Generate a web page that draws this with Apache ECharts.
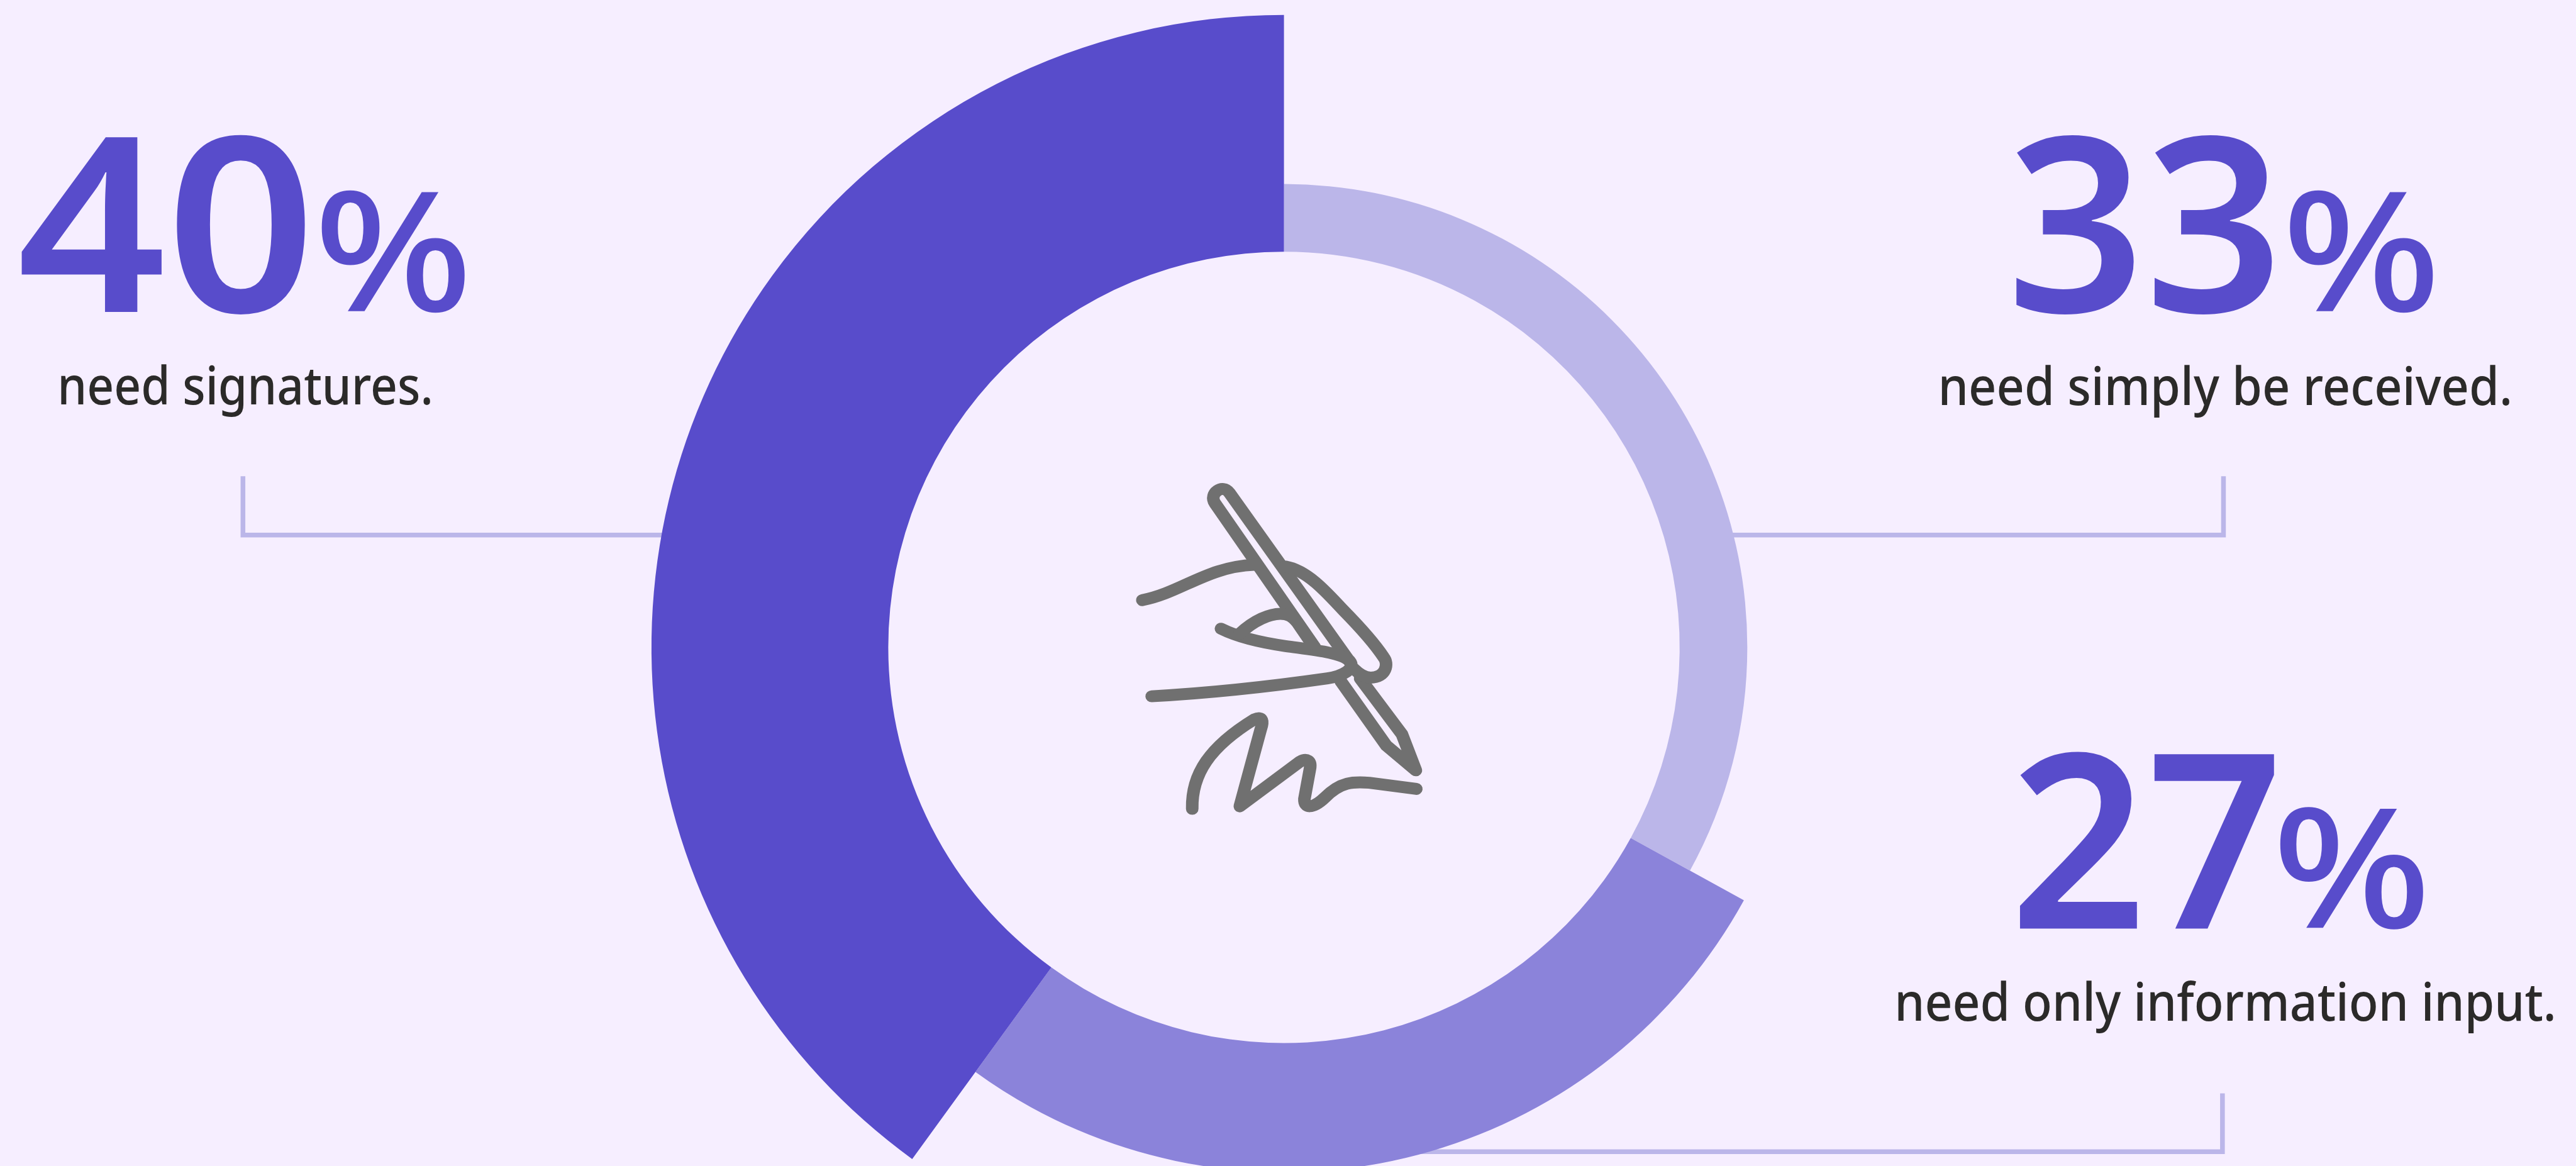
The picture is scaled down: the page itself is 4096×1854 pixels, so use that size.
<!DOCTYPE html>
<html>
<head>
<meta charset="utf-8">
<title>Documents</title>
<style>
html, body { margin: 0; padding: 0; background: #f6eeff; }
#chart { width: 4096px; height: 1854px; }
</style>
<script src="https://cdn.jsdelivr.net/npm/echarts@6/dist/echarts.min.js"></script>
</head>
<body>
<div id="chart"></div>
<script>
const shares = [33, 27, 40]
const captions = ['need simply be received.', 'need only information input.', 'need signatures.']
const sliceNames = ['simply be received', 'information input', 'signatures']
const ringColors = ['#bbb6e9', '#8b83da', '#584ccb']
// outer radius of each slice, reference px
const ringOuter = [904, 1024, 1234]

const K = 0.815 // reference -> window
const BG = '#f6eeff', BLUE = '#584ccb', LINE = '#bbb6e9', INK = '#2b2a29', ICON = '#707070'
const center = [2505 * K, 1263 * K]
const innerR = 772 * K

// every ring lays out all shares, only its own slice is visible
const rings = ringOuter.map((outer, idx) => ({
    type: 'pie',
    name: sliceNames[idx],
    center,
    radius: [innerR, outer * K],
    startAngle: 90,
    clockwise: true,
    silent: true,
    z: 2 + idx,
    label: { show: false },
    labelLine: { show: false },
    data: shares.map((v, i) => ({
        value: v,
        name: sliceNames[i],
        itemStyle: { color: i === idx ? ringColors[idx] : 'transparent' }
    }))
}))

// big number + percent + caption, x / baselines in reference px
// the original font is narrower on some strings, hence the x scales
const blocks = [
    { i: 2, numX: 33, numW: 1.07, pctX: 612, base: 608, capX: 112, capW: 0.892, capBase: 787 },
    { i: 0, numX: 3915, numW: 0.99, pctX: 4452, base: 608, capX: 3781, capW: 0.922, capBase: 788 },
    { i: 1, numX: 3921, numW: 0.98, pctX: 4433, base: 1811, capX: 3696, capW: 0.914, capBase: 1989 }
]

function baseText(text, x, base, font, fill, scaleX) {
    return {
        type: 'text',
        x: x * K,
        y: base * K,
        scaleX,
        silent: true,
        style: { text, font, fill, textAlign: 'left', textVerticalAlign: 'bottom' }
    }
}

const texts = []
blocks.forEach(b => {
    texts.push(baseText(String(shares[b.i]), b.numX, b.base + 103, '600 388px "Noto Sans"', BLUE, b.numW))
    texts.push(baseText('%', b.pctX, b.base + 69, '500 265px "Noto Sans"', BLUE, 1.12))
    texts.push(baseText(captions[b.i], b.capX, b.capBase + 24, '500 84px "Noto Sans"', INK, b.capW))
})

// leader lines
const leaders = [
    [[474, 929], [474, 1044], [1300, 1044]],
    [[4338, 929], [4338, 1044], [3370, 1044]],
    [[4336, 2133], [4336, 2247], [2700, 2247]]
].map(pts => ({
    type: 'polyline',
    silent: true,
    shape: { points: pts.map(p => [p[0] * K, p[1] * K]) },
    style: { stroke: LINE, lineWidth: 7.5, fill: null, lineJoin: 'miter' }
}))

// hand and pen icon, traced in the 1568x1568 crop of the reference
const iconPaths = [
    'M912 790 L530 210 C505 170 560 130 585 168 L1047 850',
    'M1010 925 L1185 1185 L1298 1285 L1245 1140 L1085 915',
    'M252 600 C400 570 500 465 680 458',
    'M800 465 C880 480 950 560 1020 640 C1090 715 1150 790 1175 830 C1195 855 1185 912 1125 912 C1090 910 1070 885 1060 875',
    'M553 715 C620 750 700 770 800 785 C900 800 1010 810 1045 845 C1070 875 1020 905 960 915 C760 945 500 975 288 987',
    'M625 735 C680 680 740 655 780 655 C810 655 825 665 845 690 L900 775',
    'M443 1440 C440 1300 510 1190 680 1080 C715 1065 715 1090 705 1120 L625 1430 L855 1250 C880 1235 900 1245 893 1280 L872 1400 C870 1440 905 1440 950 1395 C1010 1330 1060 1330 1120 1335 L1300 1360'
]
const iconSeries = {
    type: 'custom',
    coordinateSystem: 'none',
    silent: true,
    z: 6,
    data: [0],
    renderItem: () => ({
        type: 'group',
        x: 2100 * K,
        y: 880 * K,
        scaleX: K / 1.96,
        scaleY: K / 2.063,
        children: iconPaths.map(d => ({
            type: 'path',
            shape: { pathData: d },
            style: { stroke: ICON, lineWidth: 48, fill: 'none', lineCap: 'round', lineJoin: 'round' }
        }))
    })
}

const chart = echarts.init(document.getElementById('chart'))
chart.setOption({
    animation: false,
    backgroundColor: BG,
    series: [...rings, iconSeries],
    graphic: { elements: [...leaders, ...texts] }
})
</script>
</body>
</html>
